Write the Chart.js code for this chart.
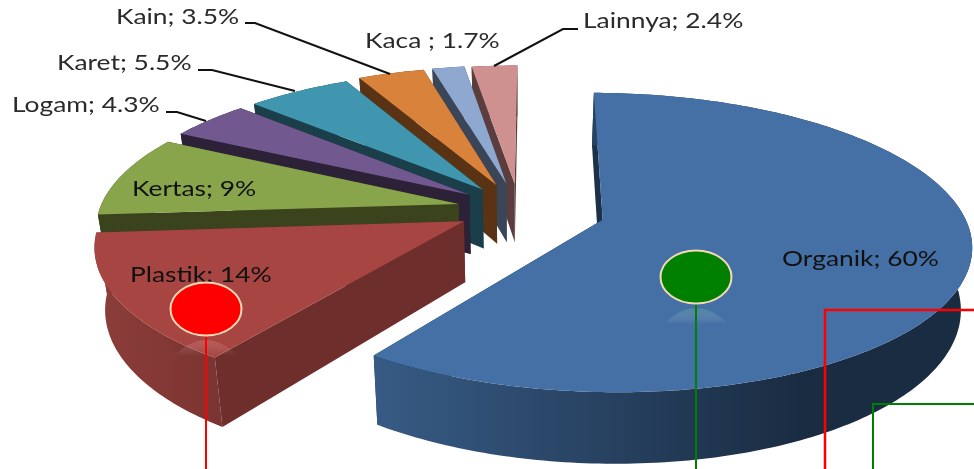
<!DOCTYPE html>
<html>
<head>
<meta charset="utf-8">
<style>
  html, body { margin: 0; padding: 0; background: #fff; }
  canvas { display: block; }
</style>
<script src="https://cdn.jsdelivr.net/npm/chart.js@4"></script>
</head>
<body>
<canvas id="wasteChart" width="974" height="469"></canvas>
<script>
const categories = ['Organik', 'Plastik', 'Kertas', 'Logam', 'Karet', 'Kain', 'Kaca ', 'Lainnya'];
const percents = [60, 14, 9, 4.3, 5.5, 3.5, 1.7, 2.4];

const topColors = ['#4570a6', '#a64542', '#88a54c', '#71588f', '#4096ae', '#d9823c', '#8fa8d0', '#cf9190'];
const sideColors = ['#1c3148', '#6e2e2c', '#3a431c', '#2c2136', '#1a3f4a', '#5a3315', '#3a4658', '#5a3d3c'];
const rimLeft = ['#375b85', '#8c3d3a', '#3a431c', '#2c2136', '#1a3f4a', '#5a3315', '#3a4658', '#5a3d3c'];
const rimRight = ['#1a2c42', '#7a3431', '#3a431c', '#2c2136', '#1a3f4a', '#5a3315', '#3a4658', '#5a3d3c'];
// chart.js divides arc offset by 4 when it draws
const sliceOffsets = [348, 250, 248, 248, 248, 262, 265, 260];

// text position, baseline left corner, then leader line if the label has one
const labelSpots = [
  { x: 782, y: 266, dark: true },
  { x: 130, y: 282, dark: true },
  { x: 132, y: 196, dark: true },
  { x: 12, y: 112, line: [[166, 112], [177, 112], [206, 121]] },
  { x: 57, y: 70, line: [[198, 70], [212, 70], [295, 91]] },
  { x: 116, y: 24, line: [[245, 23], [255, 23], [390, 74]] },
  { x: 365, y: 48 },
  { x: 583, y: 28, line: [[578, 29], [563, 29], [494, 66]] }
];

// view of the pie plane
const originX = 519, originY = 209, tilt = 143, persp = 0.15, depth = 60, taper = 0.025 / 60;
const textStretch = 1.2;

function project(u, v, z, R) {
  const n = v / R, w = 1 - persp * n;
  const s = (1 - z * taper) / w;
  return [originX + u * s, originY + (tilt * n + z) / w];
}

function rimPoints(arc, z) {
  const mid = (arc.startAngle + arc.endAngle) / 2;
  const off = arc.options.offset / 4;
  const cx = Math.cos(mid) * off, cy = Math.sin(mid) * off;
  const R = arc.outerRadius, pts = [];
  const steps = Math.ceil((arc.endAngle - arc.startAngle) * 60);
  for (let i = 0; i <= steps; i++) {
    const a = arc.startAngle + (arc.endAngle - arc.startAngle) * i / steps;
    pts.push(project(cx + Math.cos(a) * R, cy + Math.sin(a) * R, z, R));
  }
  return { pts, tip: project(cx, cy, z, R) };
}

function fillPoly(ctx, pts, fill) {
  ctx.beginPath();
  pts.forEach((p, i) => i ? ctx.lineTo(p[0], p[1]) : ctx.moveTo(p[0], p[1]));
  ctx.closePath();
  ctx.fillStyle = fill;
  ctx.fill();
}

const pie3d = {
  id: 'pie3d',
  beforeDatasetDraw(chart) {
    const ctx = chart.ctx;
    const arcs = chart.getDatasetMeta(0).data;
    // back slices first, organik last
    [7, 6, 5, 4, 3, 2, 1, 0].forEach(i => {
      const arc = arcs[i];
      const top = rimPoints(arc, 0), low = rimPoints(arc, depth);
      const last = top.pts.length - 1;
      fillPoly(ctx, [top.tip, top.pts[0], low.pts[0], low.tip], sideColors[i]);
      fillPoly(ctx, [top.tip, top.pts[last], low.pts[last], low.tip], sideColors[i]);
      const xs = top.pts.map(p => p[0]);
      const grad = ctx.createLinearGradient(Math.min(...xs), 0, i === 0 ? 800 : Math.min(...xs) + 130, 0);
      grad.addColorStop(0, rimLeft[i]);
      grad.addColorStop(1, rimRight[i]);
      fillPoly(ctx, top.pts.concat(low.pts.slice().reverse()), grad);
      fillPoly(ctx, [top.tip].concat(top.pts), topColors[i]);
    });
    return false;
  },
  afterDatasetsDraw(chart) {
    const ctx = chart.ctx;
    ctx.save();
    ctx.textBaseline = 'alphabetic';
    ctx.font = '22px Lato';
    categories.forEach((name, i) => {
      const spot = labelSpots[i];
      ctx.save();
      ctx.translate(spot.x, spot.y);
      ctx.scale(textStretch, 1);
      ctx.fillStyle = spot.dark ? '#111' : '#2a2a2a';
      ctx.fillText(name + '; ' + percents[i] + '%', 0, 0);
      ctx.restore();
      if (spot.line) {
        ctx.beginPath();
        spot.line.forEach((p, k) => k ? ctx.lineTo(p[0], p[1]) : ctx.moveTo(p[0], p[1]));
        ctx.strokeStyle = '#111';
        ctx.lineWidth = 2;
        ctx.stroke();
      }
    });

    // callout lines and dots pasted over the chart
    const polyline = (pts, color, width) => {
      ctx.beginPath();
      pts.forEach((p, k) => k ? ctx.lineTo(p[0], p[1]) : ctx.moveTo(p[0], p[1]));
      ctx.strokeStyle = color;
      ctx.lineWidth = width;
      ctx.stroke();
    };
    polyline([[825, 469], [825, 310], [974, 310]], '#ff0000', 2.5);
    polyline([[873, 469], [873, 404], [974, 404]], '#008000', 2);

    const dot = (x, y, color, glow) => {
      const g = ctx.createLinearGradient(0, y + 31, 0, y + 47);
      g.addColorStop(0, glow);
      g.addColorStop(1, 'rgba(255,255,255,0)');
      ctx.beginPath();
      ctx.moveTo(x - 32, y + 47);
      ctx.quadraticCurveTo(x, y + 15, x + 32, y + 47);
      ctx.closePath();
      ctx.fillStyle = g;
      ctx.fill();
      polyline([[x, y + 26], [x, 469]], color, 2);
      ctx.beginPath();
      ctx.ellipse(x, y, 35.5, 26.5, 0, 0, Math.PI * 2);
      ctx.fillStyle = color;
      ctx.fill();
      ctx.strokeStyle = '#f6d8b4';
      ctx.lineWidth = 2;
      ctx.stroke();
    };
    dot(206, 309, '#ff0000', 'rgba(255,170,170,0.22)');
    dot(696, 277, '#008000', 'rgba(90,170,140,0.35)');
    ctx.restore();
  }
};

new Chart(document.getElementById('wasteChart'), {
  type: 'pie',
  data: {
    labels: categories,
    datasets: [{
      data: percents,
      backgroundColor: topColors,
      offset: sliceOffsets,
      radius: 359,
      borderWidth: 0
    }]
  },
  options: {
    responsive: false,
    animation: false,
    rotation: 0.4,
    plugins: { legend: { display: false }, tooltip: { enabled: false } }
  },
  plugins: [pie3d]
});
</script>
</body>
</html>
